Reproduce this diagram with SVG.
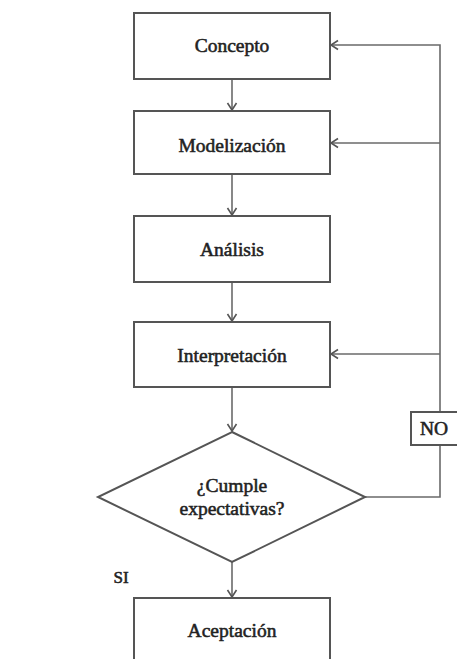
<svg xmlns="http://www.w3.org/2000/svg" width="457" height="659" viewBox="0 0 457 659">
  <style>
    .box { fill: #ffffff; stroke: #555555; stroke-width: 2; }
    .link { fill: none; stroke: #6a6a6a; stroke-width: 1.6; }
    .label { font-family: "Liberation Serif", "Times New Roman", serif; font-size: 19.5px; fill: #222222; stroke: #222222; stroke-width: 0.55; text-anchor: middle; }
  </style>
  <defs>
    <marker id="arrow" markerUnits="userSpaceOnUse" markerWidth="12" markerHeight="12" viewBox="0 0 12 12" refX="10" refY="6" orient="auto">
      <path d="M3,1.5 L10,6 L3,10.5" fill="none" stroke="#555555" stroke-width="1.6"/>
    </marker>
  </defs>
  <rect width="457" height="659" fill="#ffffff"/>

  <!-- connectors -->
  <g id="connectors">
    <line class="link" x1="232" y1="79" x2="232" y2="110" marker-end="url(#arrow)"/>
    <line class="link" x1="232" y1="174" x2="232" y2="215" marker-end="url(#arrow)"/>
    <line class="link" x1="232" y1="282" x2="232" y2="321" marker-end="url(#arrow)"/>
    <line class="link" x1="232" y1="387" x2="232" y2="431" marker-end="url(#arrow)"/>
    <line class="link" x1="232" y1="562" x2="232" y2="597" marker-end="url(#arrow)"/>
    <!-- NO branch back to the top of the loop -->
    <polyline class="link" points="365,497 440,497 440,445"/>
    <polyline class="link" points="440,412 440,45 331,45" marker-end="url(#arrow)"/>
    <line class="link" x1="440" y1="143" x2="331" y2="143" marker-end="url(#arrow)"/>
    <line class="link" x1="440" y1="354" x2="331" y2="354" marker-end="url(#arrow)"/>
  </g>

  <g id="concepto">
    <rect class="box" x="134" y="13" width="196" height="66"/>
    <text class="label" x="232" y="52">Concepto</text>
  </g>
  <g id="modelizacion">
    <rect class="box" x="134" y="111" width="196" height="63"/>
    <text class="label" x="232" y="152">Modelización</text>
  </g>
  <g id="analisis">
    <rect class="box" x="134" y="216" width="196" height="66"/>
    <text class="label" x="232" y="256">Análisis</text>
  </g>
  <g id="interpretacion">
    <rect class="box" x="134" y="322" width="196" height="65"/>
    <text class="label" x="232" y="362">Interpretación</text>
  </g>
  <g id="decision">
    <polygon class="box" points="232,432 365,497 232,562 98,497"/>
    <text class="label" x="232" y="492">¿Cumple</text>
    <text class="label" x="232" y="515">expectativas?</text>
  </g>
  <g id="no-label">
    <rect class="box" x="411" y="412" width="50" height="33"/>
    <text class="label" x="434" y="435">NO</text>
  </g>
  <g id="si-label">
    <text class="label" x="121" y="583" style="font-size:17px">SI</text>
  </g>
  <g id="aceptacion">
    <rect class="box" x="134" y="598" width="196" height="70"/>
    <text class="label" x="232" y="637">Aceptación</text>
  </g>
</svg>
